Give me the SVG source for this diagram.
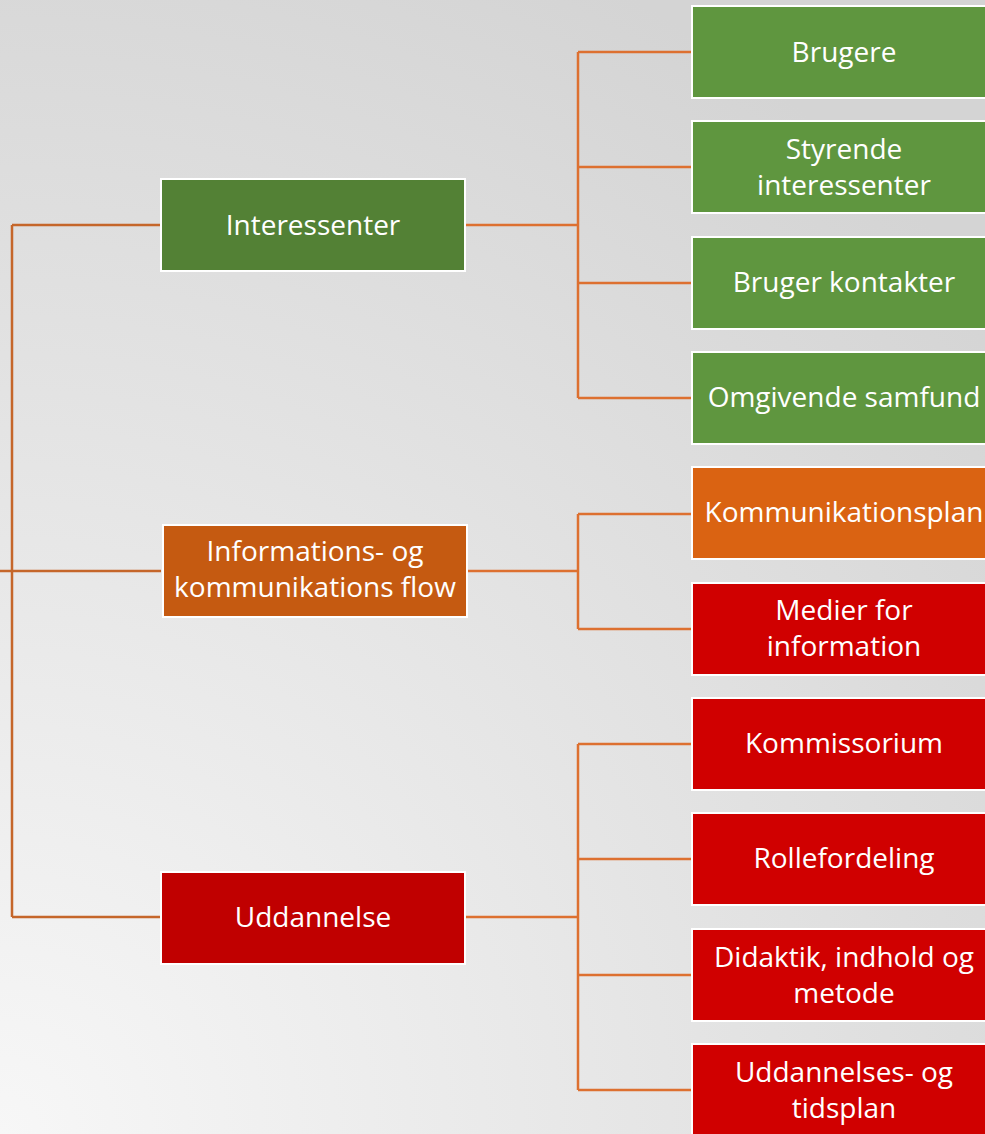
<svg xmlns="http://www.w3.org/2000/svg" width="985" height="1134" viewBox="0 0 985 1134">
<defs>
<radialGradient id="bg" cx="0" cy="1134" r="1300" gradientUnits="userSpaceOnUse">
<stop offset="0" stop-color="#f7f7f7"/>
<stop offset="1" stop-color="#d4d4d4"/>
</radialGradient>
</defs>
<style>
.box{stroke:#ffffff;stroke-width:2}
.t{font-family:"Open Sans","Liberation Sans",sans-serif;font-size:28px;fill:#ffffff;text-anchor:middle}
.c1{fill:none;stroke:#c5662a;stroke-width:2.5}
.c2{fill:none;stroke:#dd7030;stroke-width:2.5}
</style>
<rect x="0" y="0" width="985" height="1134" fill="url(#bg)"/>
<g id="connectors">
<path class="c1" d="M0 571H12M12 225V917M12 225H161M12 571H161M12 917H161"/>
<path class="c2" d="M465 225H578M578 52V398M578 52H692M578 167H692M578 283H692M578 398H692"/>
<path class="c2" d="M467 571H578M578 514V629M578 514H692M578 629H692"/>
<path class="c2" d="M465 917H578M578 744V1090M578 744H692M578 859H692M578 975H692M578 1090H692"/>
</g>
<g id="n-interessenter"><rect class="box" x="161" y="179" width="304" height="92" fill="#538135"/><text class="t" x="313" y="235">Interessenter</text></g>
<g id="n-info"><rect class="box" x="163" y="525" width="304" height="92" fill="#c55a11"/><text class="t" x="315" y="561">Informations- og</text><text class="t" x="315" y="597">kommunikations flow</text></g>
<g id="n-uddannelse"><rect class="box" x="161" y="872" width="304" height="92" fill="#c00000"/><text class="t" x="313" y="927">Uddannelse</text></g>
<g id="n-brugere"><rect class="box" x="692" y="6" width="304" height="92" fill="#5f963f"/><text class="t" x="844" y="62">Brugere</text></g>
<g id="n-styrende"><rect class="box" x="692" y="121" width="304" height="92" fill="#5f963f"/><text class="t" x="844" y="159">Styrende</text><text class="t" x="844" y="195">interessenter</text></g>
<g id="n-brugerkontakter"><rect class="box" x="692" y="237" width="304" height="92" fill="#5f963f"/><text class="t" x="844" y="292">Bruger kontakter</text></g>
<g id="n-omgivende"><rect class="box" x="692" y="352" width="304" height="92" fill="#5f963f"/><text class="t" x="844" y="407">Omgivende samfund</text></g>
<g id="n-kommunikationsplan"><rect class="box" x="692" y="467" width="304" height="92" fill="#da6312"/><text class="t" x="844" y="522">Kommunikationsplan</text></g>
<g id="n-medier"><rect class="box" x="692" y="583" width="304" height="92" fill="#d00000"/><text class="t" x="844" y="620">Medier for</text><text class="t" x="844" y="656">information</text></g>
<g id="n-kommissorium"><rect class="box" x="692" y="698" width="304" height="92" fill="#d00000"/><text class="t" x="844" y="753">Kommissorium</text></g>
<g id="n-rollefordeling"><rect class="box" x="692" y="813" width="304" height="92" fill="#d00000"/><text class="t" x="844" y="868">Rollefordeling</text></g>
<g id="n-didaktik"><rect class="box" x="692" y="929" width="304" height="92" fill="#d00000"/><text class="t" x="844" y="967">Didaktik, indhold og</text><text class="t" x="844" y="1003">metode</text></g>
<g id="n-uddannelses"><rect class="box" x="692" y="1044" width="304" height="92" fill="#d00000"/><text class="t" x="844" y="1082">Uddannelses- og</text><text class="t" x="844" y="1118">tidsplan</text></g>
</svg>
